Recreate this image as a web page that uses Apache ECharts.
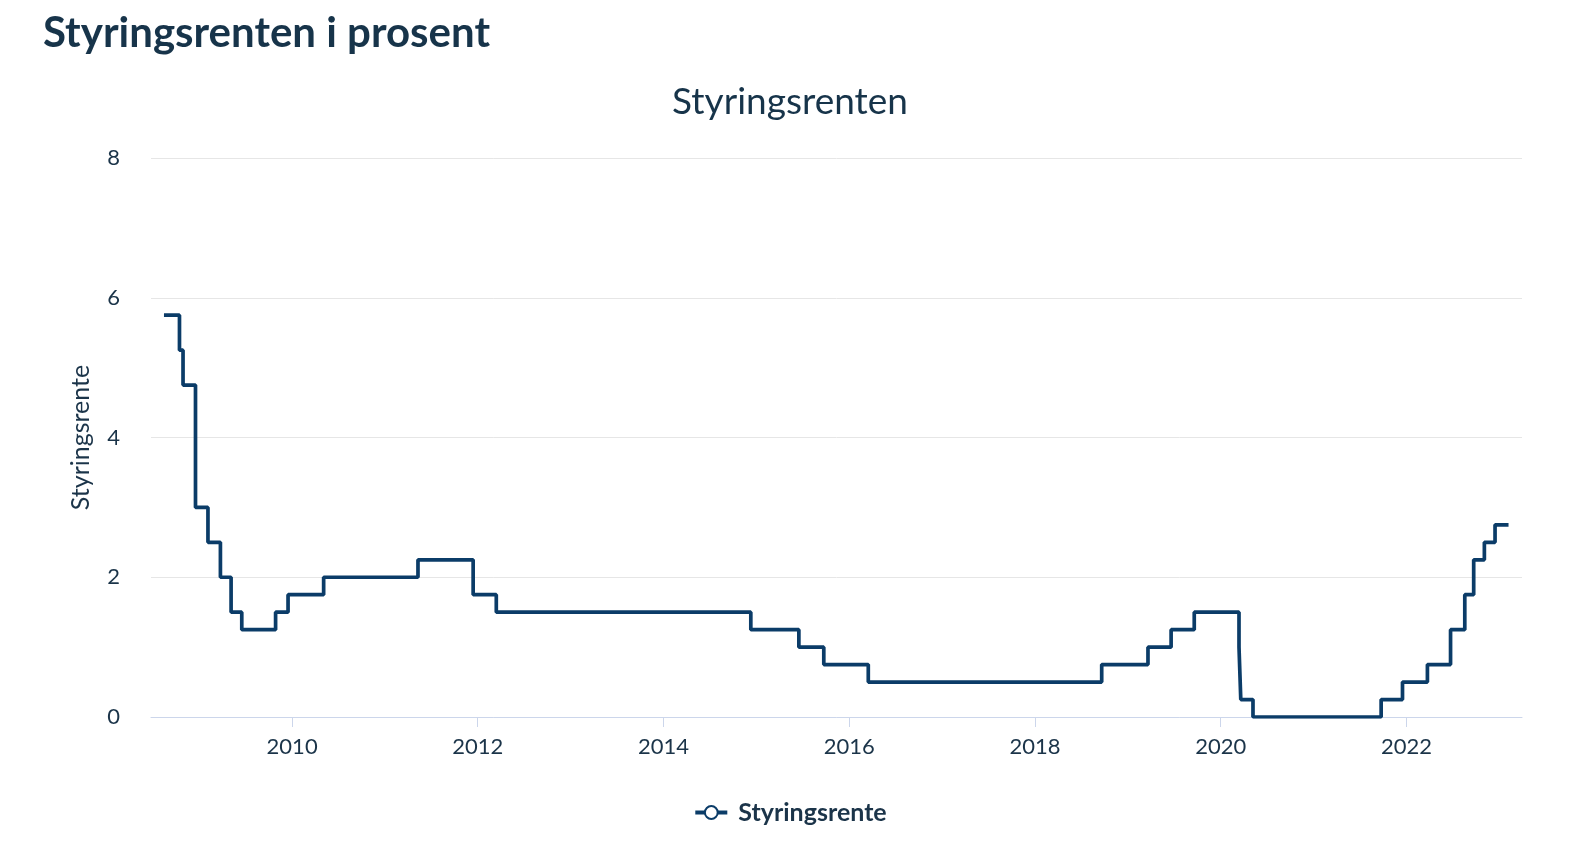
<!DOCTYPE html>
<html>
<head>
<meta charset="utf-8">
<script src="https://cdn.jsdelivr.net/npm/echarts@6/dist/echarts.min.js"></script>
<style>
html,body{margin:0;padding:0;background:#fff;}
#chart{width:1580px;height:848px;}
</style>
</head>
<body>
<div id="chart"></div>
<script>
// Change dates of the policy rate and the rate valid from that date
var changeDates = ['2008-08-15','2008-10-15','2008-10-29','2008-12-17','2009-02-04','2009-03-25','2009-05-06','2009-06-17','2009-10-28','2009-12-16','2010-05-05','2011-05-11','2011-12-14','2012-03-14','2014-12-10','2015-06-17','2015-09-23','2016-03-16','2018-09-20','2019-03-21','2019-06-20','2019-09-19','2020-03-13','2020-03-20','2020-05-07','2021-09-23','2021-12-16','2022-03-24','2022-06-23','2022-08-18','2022-09-22','2022-11-03','2022-12-15','2023-02-06'];
var rateValues = [5.75,5.25,4.75,3.00,2.50,2.00,1.50,1.25,1.50,1.75,2.00,2.25,1.75,1.50,1.25,1.00,0.75,0.50,0.75,1.00,1.25,1.50,1.00,0.25,0.00,0.25,0.50,0.75,1.25,1.75,2.25,2.50,2.75,2.75];
var tickYears = [2010,2012,2014,2016,2018,2020,2022];
var yTicks = [0,2,4,6,8];

function ts(s){var p=s.split('-');return Date.UTC(+p[0],+p[1]-1,+p[2]);}
var seriesData = changeDates.map(function(d,i){return [ts(d), rateValues[i]];});
var tickTimes = tickYears.map(function(y){return Date.UTC(y,0,1);});

var txt = '#1b3449';
var lineColor = '#0b3c68';
var chart = echarts.init(document.getElementById('chart'));
chart.setOption({
  animation:false,
  backgroundColor:'#fff',
  title:[
    {text:'Styringsrenten i prosent', left:38, top:7,
     textStyle:{fontFamily:'Lato', fontWeight:'bold', fontSize:42, color:'#17344a'}},
    {text:'Styringsrenten', left:'center', top:79,
     textStyle:{fontFamily:'Lato', fontWeight:'normal', fontSize:37, color:'#17344a'}}
  ],
  grid:{left:151, right:58, top:158, bottom:131, containLabel:false},
  xAxis:{
    type:'value',
    min:ts('2008-06-25'), max:ts('2023-03-31'),
    axisLine:{show:true, lineStyle:{color:'#ccd6eb', width:1}},
    axisTick:{show:true, customValues:tickTimes, length:10, lineStyle:{color:'#ccd6eb'}},
    axisLabel:{customValues:tickTimes, fontFamily:'Lato', fontSize:22, color:txt, margin:19,
      formatter:function(v){return String(new Date(v).getUTCFullYear());}},
    splitLine:{show:false}
  },
  yAxis:{
    type:'value', min:0, max:8, interval:2,
    name:'Styringsrente', nameLocation:'middle', nameGap:58, nameRotate:90,
    nameTextStyle:{fontFamily:'Lato', fontSize:25, color:txt},
    axisLine:{show:false}, axisTick:{show:false},
    axisLabel:{fontFamily:'Lato', fontSize:22, color:txt, margin:31},
    splitLine:{lineStyle:{color:'#e6e6e6', width:1}}
  },
  legend:{
    bottom:18, left:'center', itemWidth:32, itemHeight:16, itemGap:10,
    textStyle:{fontFamily:'Lato', fontWeight:'bold', fontSize:25, color:txt, padding:[0,0,0,6]},
    itemStyle:{borderWidth:3.5},
    data:[{name:'Styringsrente', itemStyle:{color:lineColor, borderColor:lineColor, borderWidth:3.5},
           lineStyle:{color:lineColor, width:4}}]
  },
  series:[{
    name:'Styringsrente', type:'line', step:'end',
    data:seriesData, showSymbol:false, symbol:'emptyCircle', symbolSize:14,
    lineStyle:{color:lineColor, width:3.7},
    itemStyle:{color:lineColor, borderWidth:3.5}
  }]
});
</script>
</body>
</html>
